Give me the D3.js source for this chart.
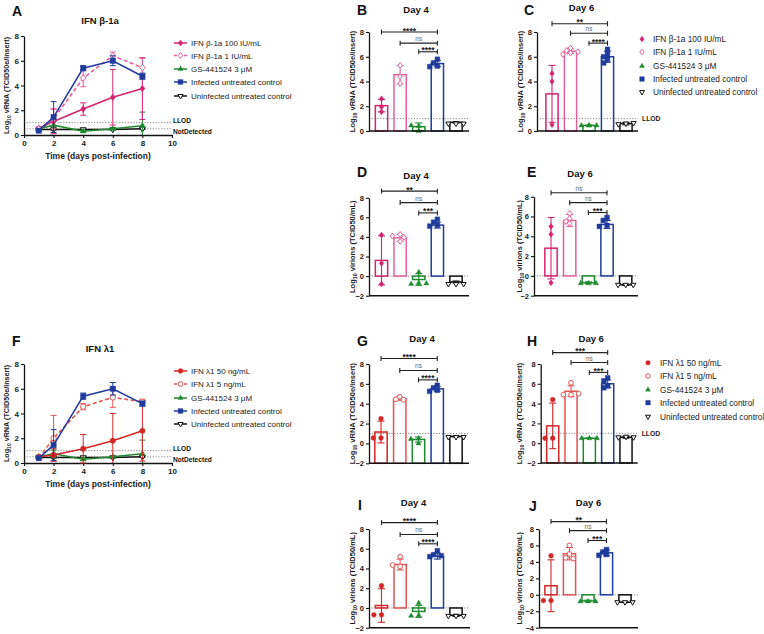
<!DOCTYPE html>
<html><head><meta charset="utf-8">
<script src="https://cdn.jsdelivr.net/npm/d3@7"></script>
<style>body{margin:0;background:#fff}svg{font-family:"Liberation Sans",Arial,sans-serif}</style>
</head><body><svg id="c" width="764" height="634"></svg>
<script>
// ================= DATA =================
const days = [1, 2, 4, 6, 8];
const xTicksLine = [0, 2, 4, 6, 8, 10];
const yTicksVRNA = [0, 2, 4, 6, 8];
const yTicksNeg2 = [-2, 0, 2, 4, 6, 8];
const yTicksNeg4 = [-4, -2, 0, 2, 4, 6, 8];

const betaNames = ["IFN β-1a 100 IU/mL", "IFN β-1a 1 IU/mL", "GS-441524 3 μM", "Infected untreated control", "Uninfected untreated control"];
const lambdaNames = ["IFN λ1 50 ng/mL", "IFN λ1 5 ng/mL", "GS-441524 3 μM", "Infected untreated control", "Uninfected untreated control"];

// Panel A: kinetics (mean, SD) for IFN β-1a
const A_ifn100 = [0.55, 1.1, 2.1, 3.05, 3.75];   const A_ifn100_sd = [0.1, 1.0, 0.5, 2.25, 2.5];
const A_ifn1   = [0.5, 1.3, 4.6, 6.4, 5.45];     const A_ifn1_sd   = [0.1, 0.8, 0.7, 0.3, 0.75];
const A_gs     = [0.5, 0.8, 0.3, 0.5, 0.75];     const A_gs_sd     = [0.05, 0.3, 0.1, 0.05, 1.1];
const A_inf    = [0.35, 1.45, 5.4, 6.0, 4.75];   const A_inf_sd    = [0.05, 1.25, 0.2, 0.4, 0.25];
const A_uninf  = [0.45, 0.45, 0.45, 0.45, 0.5];  const A_uninf_sd  = [0.05, 0.05, 0.05, 0.05, 0.05];

// Panel F: kinetics (mean, SD) for IFN λ1
const F_ifn50  = [0.5, 0.65, 1.15, 1.8, 2.6];    const F_ifn50_sd  = [0.05, 0.5, 1.15, 2.2, 2.45];
const F_ifn5   = [0.4, 2.0, 4.55, 5.3, 4.95];    const F_ifn5_sd   = [0.05, 1.85, 0.25, 0.8, 0.2];
const F_gs     = [0.5, 0.75, 0.3, 0.5, 0.75];    const F_gs_sd     = [0.05, 0.3, 0.1, 0.05, 1.1];
const F_inf    = [0.4, 1.45, 5.4, 6.0, 4.8];     const F_inf_sd    = [0.05, 1.25, 0.25, 0.5, 0.2];
const F_uninf  = [0.45, 0.45, 0.45, 0.45, 0.5];  const F_uninf_sd  = [0.05, 0.05, 0.05, 0.05, 0.05];

// Bar panels: means, SD, individual replicates, significance [from, to, height, label]
const B_mean = [2.05, 4.55, 0.35, 5.45, 0.7];
const B_sd   = [0.5, 0.75, 0.3, 0.25, 0.05];
const B_pts  = [[2.6, 1.55, 1.95], [5.3, 3.85, 4.4], [0.4, 0.45, 0.0], [5.8, 5.5, 5.25, 5.2], [0.6, 0.6, 0.6]];
const B_sig  = [[0, 3, 8.0, "****"], [1, 3, 7.1, "ns"], [2, 3, 6.4, "****"]];

const C_mean = [3.0, 6.45, 0.45, 6.0, 0.6];
const C_sd   = [2.3, 0.2, 0.03, 0.45, 0.1];
const C_pts  = [[4.65, 4.0, 0.5], [6.7, 6.3, 6.5, 6.4, 6.2], [0.45, 0.45, 0.45, 0.45], [6.6, 6.2, 5.8, 6.0, 5.5], [0.6, 0.55, 0.65]];
const C_sig  = [[0, 3, 8.67, "**"], [1, 3, 7.9, "ns"], [2, 3, 7.1, "****"]];

const D_mean = [1.6, 3.9, -0.35, 5.2, -0.6];
const D_sd   = [2.5, 0.35, 0.6, 0.3, 0.1];
const D_pts  = [[4.2, 1.3, -0.8], [4.25, 3.55, 4.1, 3.95], [0.4, -0.7, -0.8, -0.75], [5.8, 5.5, 5.2, 5.1], [-0.8, -0.8, -0.8]];
const D_sig  = [[0, 3, 8.67, "**"], [1, 3, 7.5, "ns"], [2, 3, 6.45, "***"]];

const E_mean = [2.8, 5.6, -0.7, 5.2, -0.9];
const E_sd   = [3.1, 0.6, 0.1, 0.4, 0.05];
const E_pts  = [[5.0, 4.2, -0.7], [6.3, 5.8, 5.3, 5.5], [-0.75, -0.75, -0.75], [5.9, 5.6, 5.1, 5.0], [-0.9, -0.9, -0.9]];
const E_sig  = [[0, 3, 8.4, "ns"], [1, 3, 7.4, "ns"], [2, 3, 6.4, "***"]];

const G_mean = [1.15, 4.5, 0.4, 5.5, 0.7];
const G_sd   = [1.1, 0.15, 0.25, 0.25, 0.05];
const G_pts  = [[2.5, 0.55, 0.55], [4.7, 4.45, 4.4], [0.5, 0.45, 0.0], [5.85, 5.6, 5.35, 5.25], [0.65, 0.65, 0.65]];
const G_sig  = [[0, 3, 8.55, "****"], [1, 3, 7.35, "ns"], [2, 3, 6.4, "****"]];

const H_mean = [1.75, 5.25, 0.5, 6.0, 0.6];
const H_sd   = [2.3, 0.55, 0.03, 0.4, 0.1];
const H_pts  = [[4.4, 0.5, 0.5], [6.1, 4.9, 4.9, 5.0], [0.5, 0.5, 0.5], [6.6, 6.3, 5.8, 5.6], [0.65, 0.6, 0.6]];
const H_sig  = [[0, 3, 9.15, "***"], [1, 3, 8.15, "ns"], [2, 3, 7.15, "***"]];

const I_mean = [0.25, 4.4, -0.35, 5.25, -0.75];
const I_sd   = [1.7, 0.55, 0.6, 0.3, 0.1];
const I_pts  = [[2.25, -0.7, -0.7], [5.2, 4.2, 4.35], [0.5, -0.75, -0.8], [5.8, 5.4, 5.3, 5.2], [-0.8, -0.8, -0.8]];
const I_sig  = [[0, 3, 8.65, "****"], [1, 3, 7.45, "ns"], [2, 3, 6.5, "****"]];

const J_mean = [1.1, 5.0, -0.75, 5.1, -0.9];
const J_sd   = [3.15, 0.75, 0.1, 0.35, 0.05];
const J_pts  = [[4.75, -0.7, -0.7], [6.0, 4.95, 4.5, 4.4], [-0.8, -0.8, -0.8], [5.5, 5.2, 4.9, 4.8], [-0.9, -0.9, -0.9]];
const J_sig  = [[0, 3, 8.9, "**"], [1, 3, 7.8, "ns"], [2, 3, 6.6, "***"]];

// ================= STYLES =================
const betaColors   = ["#d3246f", "#e2619b", "#1e8a2e", "#1f3b9b", "#111111"];
const lambdaColors = ["#d42626", "#e05454", "#1e8a2e", "#1f3b9b", "#111111"];
const betaShapes   = ["diamond", "diamond", "triangle", "square", "tridown"];
const lambdaShapes = ["circle", "circle", "triangle", "square", "tridown"];
const filledFlags  = [true, false, true, true, false];
const dashFlags    = [false, true, false, false, false];

const svg = d3.select("#c");

function symPath(shape, r) {
  if (shape === "diamond") {
    const h = r * 1.25, w = r * 0.95;
    return `M0,${-h}L${w},0L0,${h}L${-w},0Z`;
  }
  if (shape === "square") return `M${-r},${-r}H${r}V${r}H${-r}Z`;
  if (shape === "circle") return d3.symbol().type(d3.symbolCircle).size(Math.PI * r * r)();
  // triangle (up); tridown rotated
  const R = r * 1.25;
  const s = R * Math.sqrt(3) / 2;
  const dy = shape === "tridown" ? -1 : 1;
  return `M0,${-R * dy}L${s},${R / 2 * dy}L${-s},${R / 2 * dy}Z`;
}
function marker(g, x, y, shape, color, filled, r) {
  g.append("path").attr("d", symPath(shape, r))
    .attr("transform", `translate(${x},${y})`)
    .attr("fill", filled ? color : "#fff").attr("stroke", color)
    .attr("stroke-width", filled ? 0.4 : 1);
}
function styleAxis(a, fs) {
  a.selectAll(".domain").attr("stroke", "#111").attr("stroke-width", 1.3);
  a.selectAll(".tick line").attr("stroke", "#111").attr("stroke-width", 1.1);
  a.selectAll(".tick text").attr("font-size", fs).attr("font-weight", "bold").attr("fill", "#222")
    .attr("font-family", '"Liberation Sans", Arial, sans-serif');
}
function yLabel(g, x, yc, rest, fs) {
  const t = g.append("text").attr("transform", `translate(${x},${yc}) rotate(-90)`)
    .attr("text-anchor", "middle").attr("font-size", fs).attr("font-weight", "bold").attr("fill", "#222");
  t.append("tspan").text("Log");
  t.append("tspan").attr("font-size", fs * 0.7).attr("dy", 2).text("10");
  t.append("tspan").attr("dy", -2).text(" " + rest);
}
function letter(x, y, s) {
  svg.append("text").attr("x", x).attr("y", y).attr("font-size", 14).attr("font-weight", "bold").attr("fill", "#111").text(s);
}
function title(x, y, s) {
  svg.append("text").attr("x", x).attr("y", y).attr("text-anchor", "middle").attr("font-size", 9.5).attr("font-weight", "bold").attr("fill", "#111").text(s);
}

// ================= LINE PANELS =================
function linePanel(o) {
  const g = svg.append("g");
  const x = d3.scaleLinear().domain([0, 10]).range([o.x0, o.x1]);
  const y = d3.scaleLinear().domain([0, 8]).range([o.yb, o.yt]);
  [[1, "LLOD", -1.8], [0.5, "NotDetected", 2.4]].forEach(([v, lab, dy]) => {
    g.append("line").attr("x1", x(0)).attr("x2", x(10)).attr("y1", y(v)).attr("y2", y(v))
      .attr("stroke", "#777").attr("stroke-width", 0.9).attr("stroke-dasharray", "1.2,1.6");
    g.append("text").attr("x", x(10) + 1).attr("y", y(v) + dy + 2.3).attr("font-size", 6.6).attr("font-weight", "bold")
      .attr("fill", "#111").text(lab);
  });
  const ax = g.append("g").attr("transform", `translate(0,${o.yb})`)
    .call(d3.axisBottom(x).tickValues(xTicksLine).tickSize(3).tickPadding(2).tickSizeOuter(0));
  const ay = g.append("g").attr("transform", `translate(${o.x0},0)`)
    .call(d3.axisLeft(y).tickValues(yTicksVRNA).tickSize(3).tickPadding(2).tickSizeOuter(0));
  styleAxis(ax, 8); styleAxis(ay, 8);
  const order = [4, 2, 0, 1, 3];
  order.forEach(i => {
    const s = o.series[i];
    const col = o.colors[i];
    const data = days.map((d, k) => ({d, m: s.mean[k], sd: s.sd[k]}));
    data.forEach(p => {
      const lo = Math.max(p.m - p.sd, 0), hi = p.m + p.sd;
      g.append("line").attr("x1", x(p.d)).attr("x2", x(p.d)).attr("y1", y(lo)).attr("y2", y(hi)).attr("stroke", col).attr("stroke-width", 1);
      [hi].concat(p.m - p.sd >= 0 ? [lo] : []).forEach(v =>
        g.append("line").attr("x1", x(p.d) - 3).attr("x2", x(p.d) + 3).attr("y1", y(v)).attr("y2", y(v)).attr("stroke", col).attr("stroke-width", 1));
    });
    g.append("path").datum(data).attr("d", d3.line().x(p => x(p.d)).y(p => y(p.m)))
      .attr("fill", "none").attr("stroke", col).attr("stroke-width", 1.6)
      .attr("stroke-dasharray", dashFlags[i] ? "4,2.5" : null);
    data.forEach(p => marker(g, x(p.d), y(p.m), o.shapes[i], col, filledFlags[i], 2.7));
  });
  // legend
  o.names.forEach((n, i) => {
    const ly = o.legY[i];
    g.append("line").attr("x1", 174).attr("x2", 187).attr("y1", ly).attr("y2", ly).attr("stroke", o.colors[i]).attr("stroke-width", 1.5)
      .attr("stroke-dasharray", dashFlags[i] ? "3,2" : null);
    marker(g, 180.5, ly, o.shapes[i], o.colors[i], filledFlags[i], 2.4);
    g.append("text").attr("x", 191).attr("y", ly + 3).attr("font-size", 8).attr("fill", "#222").text(n);
  });
  // labels
  g.append("text").attr("x", 98).attr("y", o.yb + 24).attr("text-anchor", "middle").attr("font-size", 8.5)
    .attr("font-weight", "bold").attr("fill", "#222").text("Time (days post-infection)");
  yLabel(g, 9, (o.yb + o.yt) / 2, "vRNA (TCID50e/insert)", 7.2);
}

linePanel({
  x0: 24, x1: 172, yb: 135, yt: 36, colors: betaColors, shapes: betaShapes, names: betaNames,
  legY: [43, 55.5, 69, 82, 96],
  series: [
    {mean: A_ifn100, sd: A_ifn100_sd}, {mean: A_ifn1, sd: A_ifn1_sd}, {mean: A_gs, sd: A_gs_sd},
    {mean: A_inf, sd: A_inf_sd}, {mean: A_uninf, sd: A_uninf_sd}]
});
linePanel({
  x0: 24, x1: 172, yb: 463, yt: 364, colors: lambdaColors, shapes: lambdaShapes, names: lambdaNames,
  legY: [371, 384, 398, 411, 424],
  series: [
    {mean: F_ifn50, sd: F_ifn50_sd}, {mean: F_ifn5, sd: F_ifn5_sd}, {mean: F_gs, sd: F_gs_sd},
    {mean: F_inf, sd: F_inf_sd}, {mean: F_uninf, sd: F_uninf_sd}]
});
title(100, 24, "IFN β-1a");
title(100, 352, "IFN λ1");
letter(12, 16, "A");
letter(12, 346, "F");

// ================= BAR PANELS =================
function swarm(vals, y, step) {
  const placed = [];
  return vals.map(v => {
    const py = y(v);
    for (const k of [0, -1, 1, -2, 2, -3, 3]) {
      const px = k * step;
      if (!placed.some(p => Math.hypot(p[0] - px, p[1] - py) < step * 1.1)) { placed.push([px, py]); return px; }
    }
    placed.push([0, py]); return 0;
  });
}
function barPanel(o) {
  const g = svg.append("g");
  const y = d3.scaleLinear().domain(o.yDomain).range([o.yb, o.yt]);
  const x = d3.scalePoint().domain(d3.range(5)).range([o.c0, o.c4]);
  const bw = x.step() * 0.66;
  g.append("line").attr("x1", o.ax).attr("x2", o.axEnd).attr("y1", y(o.refLine)).attr("y2", y(o.refLine))
    .attr("stroke", "#777").attr("stroke-width", 0.9).attr("stroke-dasharray", "1.2,1.6");
  if (o.llodLabel) g.append("text").attr("x", o.axEnd + 4).attr("y", y(o.refLine) + 2.5).attr("font-size", 6.8)
    .attr("font-weight", "bold").attr("fill", "#222").text("LLOD");
  o.mean.forEach((m, i) => {
    const col = o.colors[i];
    const cx = x(i);
    const y0 = y(o.base), y1 = y(m);
    g.append("rect").attr("x", cx - bw / 2).attr("width", bw).attr("y", Math.min(y0, y1)).attr("height", Math.abs(y1 - y0))
      .attr("fill", "none").attr("stroke", col).attr("stroke-width", 1.5);
    const lo = Math.max(m - o.sd[i], o.yDomain[0]), hi = m + o.sd[i];
    g.append("line").attr("x1", cx).attr("x2", cx).attr("y1", y(lo)).attr("y2", y(hi)).attr("stroke", col).attr("stroke-width", 1.1);
    [lo, hi].forEach(v => g.append("line").attr("x1", cx - 3.5).attr("x2", cx + 3.5).attr("y1", y(v)).attr("y2", y(v)).attr("stroke", col).attr("stroke-width", 1.1));
    const offs = swarm(o.pts[i], y, 3.8);
    o.pts[i].forEach((v, k) => marker(g, cx + offs[k], y(v), o.shapes[i], col, filledFlags[i], 2.4));
  });
  g.append("line").attr("x1", o.ax).attr("x2", o.axEnd).attr("y1", o.yb).attr("y2", o.yb).attr("stroke", "#111").attr("stroke-width", 1.5);
  const ay = g.append("g").attr("transform", `translate(${o.ax},0)`)
    .call(d3.axisLeft(y).tickValues(o.yTicks).tickSize(3).tickPadding(2).tickSizeOuter(0));
  styleAxis(ay, 7.5);
  o.sig.forEach(([a, b, v, lab]) => {
    const yy = y(v);
    g.append("line").attr("x1", x(a)).attr("x2", x(b)).attr("y1", yy).attr("y2", yy).attr("stroke", "#222").attr("stroke-width", 1.1);
    [a, b].forEach(k => g.append("line").attr("x1", x(k)).attr("x2", x(k)).attr("y1", yy - 2.5).attr("y2", yy + 2.5).attr("stroke", "#222").attr("stroke-width", 1.1));
    const ns = lab === "ns";
    g.append("text").attr("x", (x(a) + x(b)) / 2).attr("y", ns ? yy - 2 : yy + 1.5).attr("text-anchor", "middle")
      .attr("font-size", ns ? 6.5 : 8.5).attr("font-weight", ns ? "normal" : "bold")
      .attr("fill", ns ? "#666" : "#222").text(lab);
  });
  yLabel(g, o.labX, (o.yb + o.yt) / 2, o.ylab, 7.5);
  title((o.ax + o.axEnd) / 2 + o.titleDx, o.titleY, o.title);
  letter(o.letterX, o.letterY, o.letter);
}

const vr = "vRNA (TCID50e/insert)", vi = "virions (TCID50/mL)";
barPanel({letter: "B", letterX: 357, letterY: 15, title: "Day 4", titleY: 13, titleDx: -3,
  ax: 369, axEnd: 469, c0: 381.5, c4: 456, yDomain: [0, 8], yb: 131, yt: 32, yTicks: yTicksVRNA, base: 0, refLine: 1,
  mean: B_mean, sd: B_sd, pts: B_pts, sig: B_sig, colors: betaColors, shapes: betaShapes, labX: 355, ylab: vr});
barPanel({letter: "C", letterX: 524, letterY: 15, title: "Day 6", titleY: 11, titleDx: -6,
  ax: 537, axEnd: 638, c0: 552, c4: 626, yDomain: [0, 8], yb: 131, yt: 32, yTicks: yTicksVRNA, base: 0, refLine: 1, llodLabel: true,
  mean: C_mean, sd: C_sd, pts: C_pts, sig: C_sig, colors: betaColors, shapes: betaShapes, labX: 523, ylab: vr});
barPanel({letter: "D", letterX: 357, letterY: 177, title: "Day 4", titleY: 179, titleDx: -3,
  ax: 369, axEnd: 469, c0: 381.5, c4: 456, yDomain: [-2, 8], yb: 295.7, yt: 197.7, yTicks: yTicksNeg2, base: 0, refLine: 0,
  mean: D_mean, sd: D_sd, pts: D_pts, sig: D_sig, colors: betaColors, shapes: betaShapes, labX: 355, ylab: vi});
barPanel({letter: "E", letterX: 527, letterY: 177, title: "Day 6", titleY: 177, titleDx: -6,
  ax: 534, axEnd: 638, c0: 551, c4: 625.7, yDomain: [-2, 8], yb: 295.7, yt: 196.7, yTicks: yTicksNeg2, base: 0, refLine: 0,
  mean: E_mean, sd: E_sd, pts: E_pts, sig: E_sig, colors: betaColors, shapes: betaShapes, labX: 522, ylab: vi});
barPanel({letter: "G", letterX: 357, letterY: 346, title: "Day 4", titleY: 342, titleDx: 3,
  ax: 369, axEnd: 469, c0: 381, c4: 456, yDomain: [-2, 8], yb: 463.3, yt: 364, yTicks: yTicksNeg2, base: -2, refLine: 1,
  mean: G_mean, sd: G_sd, pts: G_pts, sig: G_sig, colors: lambdaColors, shapes: lambdaShapes, labX: 355, ylab: vr});
barPanel({letter: "H", letterX: 527, letterY: 346, title: "Day 6", titleY: 342, titleDx: 2,
  ax: 540.7, axEnd: 637.7, c0: 552.7, c4: 626, yDomain: [-2, 8], yb: 463, yt: 364, yTicks: yTicksNeg2, base: -2, refLine: 1, llodLabel: true,
  mean: H_mean, sd: H_sd, pts: H_pts, sig: H_sig, colors: lambdaColors, shapes: lambdaShapes, labX: 522, ylab: vr});
barPanel({letter: "I", letterX: 358, letterY: 510, title: "Day 4", titleY: 506, titleDx: -6,
  ax: 369, axEnd: 470, c0: 381.5, c4: 456, yDomain: [-2, 8], yb: 627.7, yt: 529, yTicks: yTicksNeg2, base: 0, refLine: 0,
  mean: I_mean, sd: I_sd, pts: I_pts, sig: I_sig, colors: lambdaColors, shapes: lambdaShapes, labX: 355, ylab: vi});
barPanel({letter: "J", letterX: 529, letterY: 511, title: "Day 6", titleY: 506, titleDx: 0,
  ax: 539, axEnd: 638, c0: 551, c4: 625, yDomain: [-4, 8], yb: 627.7, yt: 529, yTicks: yTicksNeg4, base: 0, refLine: 0,
  mean: J_mean, sd: J_sd, pts: J_pts, sig: J_sig, colors: lambdaColors, shapes: lambdaShapes, labX: 522, ylab: vi});

// ================= BAR LEGENDS =================
function barLegend(mx, tx, rows, names, colors, shapes) {
  const g = svg.append("g");
  names.forEach((n, i) => {
    marker(g, mx, rows[i], shapes[i], colors[i], filledFlags[i], 2.3);
    g.append("text").attr("x", tx).attr("y", rows[i] + 3).attr("font-size", 8.3).attr("fill", "#222").text(n);
  });
}
barLegend(642, 653, [39, 52, 66, 79, 92], betaNames, betaColors, betaShapes);
barLegend(648, 660, [362.7, 376, 389.7, 402.7, 416.7], lambdaNames, lambdaColors, lambdaShapes);
</script></body></html>
